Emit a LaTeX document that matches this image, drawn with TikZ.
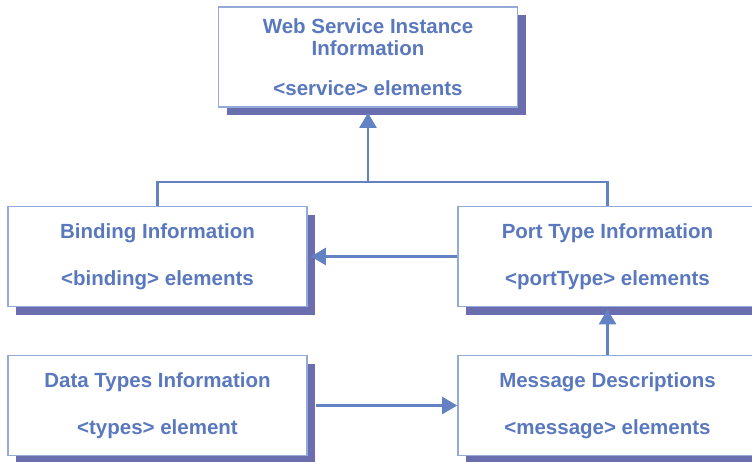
\documentclass[tikz,border=0pt]{standalone}
\usepackage{fontspec}
\setmainfont{Liberation Sans}
\usetikzlibrary{arrows.meta,shadows}
\definecolor{txtc}{HTML}{5A78BE}
\definecolor{bordc}{HTML}{93A9DA}
\definecolor{shadc}{HTML}{6A6EAF}
\definecolor{linec}{HTML}{6382C4}
\tikzset{
  infobox/.style={draw=bordc, line width=1.6pt, fill=white, text=txtc,
    minimum width=299pt, minimum height=100pt, inner sep=0pt, align=center,
    font=\fontsize{20.5}{22}\selectfont\bfseries,
    general shadow={fill=shadc, draw=none, shadow xshift=8pt, shadow yshift=-8pt}},
  conn/.style={draw=linec, line width=2.3pt},
  arr/.style={conn, -{Triangle[length=15pt,width=17pt]}}
}
\begin{document}
\begin{tikzpicture}[x=1pt,y=-1pt]
\clip (0,0) rectangle (752,461);
\fill[white] (0,0) rectangle (752,461);
\node[infobox] (top) at (368,57) {Web Service Instance\\Information\\[18pt]<service> elements};
\node[infobox] (bind) at (157.5,256.5) {Binding Information\\[25pt]<binding> elements};
\node[infobox] (port) at (607.5,256.5) {Port Type Information\\[25pt]<portType> elements};
\node[infobox] (data) at (157.5,405.5) {Data Types Information\\[25pt]<types> element};
\node[infobox] (msg) at (607.5,405.5) {Message Descriptions\\[25pt]<message> elements};
\draw[conn] (bind.north) -- ++(0,-24) coordinate (jl) -| (port.north);
\coordinate (j) at (368,183);
\draw[arr] (j) -- ([yshift=-5pt]top.south);
\draw[arr] (port.west) -- ([xshift=3pt]bind.east);
\draw[arr] (msg.north) -- ([yshift=-2pt]port.south);
\draw[arr] ([xshift=8pt]data.east) -- (msg.west);
\end{tikzpicture}
\end{document}
